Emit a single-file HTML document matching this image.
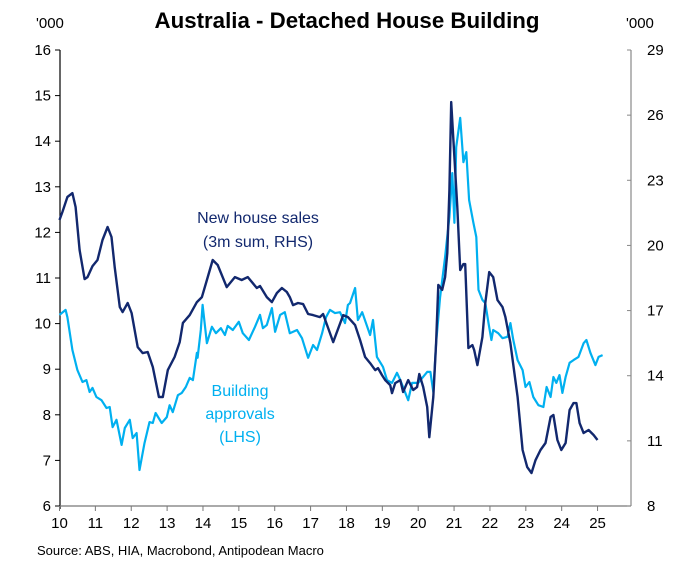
<!DOCTYPE html>
<html><head><meta charset="utf-8"><style>
body{margin:0;background:#fff;width:688px;height:572px;overflow:hidden;font-family:"Liberation Sans",Arial,sans-serif}
svg text{font-family:"Liberation Sans",Arial,sans-serif}
</style></head><body>
<svg id="chart" width="688" height="572" viewBox="0 0 688 572" xmlns="http://www.w3.org/2000/svg">
<text x="347" y="28" text-anchor="middle" font-size="22.5" font-weight="bold" fill="#000" textLength="385" lengthAdjust="spacingAndGlyphs">Australia - Detached House Building</text>
<text x="36" y="28" font-size="15" fill="#000">'000</text>
<text x="626" y="28" font-size="15" fill="#000">'000</text>
<g id="axes"></g>
<g id="series"></g>
<text x="258" y="223" text-anchor="middle" font-size="16" fill="#12286e">New house sales</text>
<text x="258" y="247" text-anchor="middle" font-size="16" fill="#12286e">(3m sum, RHS)</text>
<text x="240" y="396" text-anchor="middle" font-size="16" fill="#00b0f0">Building</text>
<text x="240" y="419" text-anchor="middle" font-size="16" fill="#00b0f0">approvals</text>
<text x="240" y="442" text-anchor="middle" font-size="16" fill="#00b0f0">(LHS)</text>
<text x="37" y="555" font-size="13" fill="#000">Source: ABS, HIA, Macrobond, Antipodean Macro</text>
</svg>
<script>
const leftTicks=[6,7,8,9,10,11,12,13,14,15,16];
const rightTicks=[8,11,14,17,20,23,26,29];
const yearTicks=[10,11,12,13,14,15,16,17,18,19,20,21,22,23,24,25];
const salesDates=[10.00,10.08,10.22,10.36,10.45,10.56,10.70,10.78,10.92,11.06,11.20,11.34,11.45,11.54,11.68,11.76,11.90,12.01,12.18,12.32,12.46,12.60,12.77,12.88,13.02,13.21,13.35,13.44,13.63,13.83,13.97,14.11,14.27,14.41,14.66,14.89,15.08,15.25,15.50,15.59,15.78,15.92,16.06,16.20,16.34,16.42,16.51,16.65,16.79,16.93,17.07,17.26,17.35,17.63,17.91,18.04,18.24,18.38,18.52,18.66,18.80,18.88,18.99,19.08,19.22,19.27,19.36,19.50,19.58,19.72,19.86,19.97,20.03,20.14,20.25,20.31,20.42,20.50,20.56,20.67,20.75,20.81,20.87,20.92,20.98,21.09,21.17,21.26,21.31,21.40,21.51,21.56,21.65,21.79,21.87,21.98,22.09,22.21,22.35,22.43,22.57,22.77,22.91,23.04,23.16,23.27,23.41,23.55,23.69,23.77,23.88,23.99,24.11,24.22,24.33,24.41,24.50,24.61,24.75,24.89,25.00];
const salesValues=[21.17,21.54,22.23,22.41,21.77,19.79,18.45,18.54,19.05,19.33,20.25,20.85,20.39,19.00,17.16,16.93,17.35,16.89,15.32,15.04,15.09,14.40,13.02,13.02,14.26,14.86,15.55,16.43,16.79,17.39,17.62,18.41,19.33,19.10,18.08,18.54,18.41,18.54,18.04,18.13,17.62,17.39,17.81,18.04,17.85,17.62,17.25,17.35,17.30,16.84,16.79,16.70,16.84,15.55,16.79,16.70,16.33,15.64,14.86,14.58,14.26,14.35,14.03,13.80,13.57,13.20,13.66,13.80,13.25,13.80,13.34,13.48,14.08,13.48,12.56,11.17,13.02,15.50,18.18,17.95,18.54,19.65,22.55,26.60,24.85,21.77,18.87,19.14,19.14,15.27,15.41,15.18,14.49,15.78,17.35,18.77,18.54,17.48,17.16,16.70,15.50,13.02,10.58,9.79,9.52,10.11,10.58,10.90,12.10,12.19,11.04,10.58,10.90,12.42,12.74,12.74,11.82,11.36,11.50,11.27,11.04];
const approvalDates=[10.00,10.17,10.22,10.36,10.50,10.64,10.75,10.84,10.92,11.03,11.17,11.31,11.40,11.48,11.59,11.73,11.82,11.96,12.04,12.15,12.23,12.37,12.51,12.60,12.68,12.85,12.99,13.07,13.16,13.30,13.41,13.52,13.63,13.72,13.83,13.85,13.94,13.99,14.11,14.25,14.36,14.50,14.61,14.69,14.83,15.00,15.11,15.28,15.45,15.59,15.67,15.78,15.92,16.01,16.15,16.28,16.42,16.62,16.76,16.93,17.07,17.18,17.32,17.43,17.54,17.68,17.82,17.96,18.04,18.10,18.24,18.32,18.44,18.66,18.74,18.85,19.02,19.13,19.27,19.41,19.50,19.72,19.83,20.00,20.25,20.34,20.42,20.50,20.61,20.75,20.87,20.95,21.01,21.06,21.17,21.26,21.34,21.42,21.54,21.62,21.68,21.79,21.87,21.96,22.04,22.09,22.23,22.35,22.49,22.57,22.65,22.77,22.91,22.99,23.10,23.21,23.35,23.49,23.58,23.69,23.77,23.85,23.94,24.02,24.11,24.22,24.33,24.47,24.61,24.69,24.80,24.94,25.03,25.14];
const approvalValues=[10.19,10.30,10.14,9.42,8.98,8.72,8.76,8.50,8.59,8.39,8.32,8.15,8.17,7.73,7.89,7.34,7.71,7.89,7.49,7.60,6.79,7.38,7.84,7.82,8.04,7.82,7.95,8.21,8.06,8.43,8.48,8.61,8.81,8.76,9.36,9.25,9.86,10.41,9.57,9.93,9.79,9.90,9.75,9.95,9.86,10.04,9.79,9.64,9.93,10.19,9.90,9.97,10.34,9.82,10.19,10.25,9.79,9.86,9.68,9.25,9.53,9.42,9.79,10.14,10.30,10.23,10.25,10.01,10.41,10.45,10.78,10.08,10.25,9.75,10.08,9.27,9.05,8.76,8.70,8.92,8.76,8.32,8.70,8.70,8.94,8.94,8.50,9.57,10.58,11.46,12.34,13.30,12.21,13.87,14.51,13.54,13.76,12.71,12.21,11.90,10.74,10.52,10.45,10.01,9.64,9.86,9.79,9.68,9.71,10.01,9.64,9.20,8.98,8.61,8.72,8.39,8.21,8.17,8.61,8.39,8.83,8.70,8.87,8.48,8.83,9.14,9.20,9.27,9.57,9.64,9.36,9.09,9.27,9.31];

const NS='http://www.w3.org/2000/svg';
const X0=60,X1=631,Y0=50,Y1=506;
function xS(y){return 59.5+(y-10)*35.87;}
function yL(v){return Y1-(v-6)/(16-6)*(Y1-Y0);}
function yR(v){return Y1-(v-8)/(29-8)*(Y1-Y0);}
function mk(tag,attrs,parent){const e=document.createElementNS(NS,tag);for(const k in attrs)e.setAttribute(k,attrs[k]);parent.appendChild(e);return e;}
const axes=document.getElementById('axes');
const ser=document.getElementById('series');
let e;
e=mk('line',{x1:X0,y1:Y0,x2:X0,y2:Y1+3,stroke:'#000','stroke-width':1.2},axes);


e=mk('line',{x1:X1,y1:Y0,x2:X1,y2:Y1,stroke:'#888','stroke-width':1.2},axes);


e=mk('line',{x1:X0,y1:Y1,x2:X1,y2:Y1,stroke:'#777','stroke-width':1.2},axes);


leftTicks.forEach(v=>{const y=yL(v);
 e=mk('line',{x1:X0-5,y1:y,x2:X0,y2:y,stroke:'#000','stroke-width':1},axes);
 
 
 e=mk('text',{x:X0-9,y:y+5,'text-anchor':'end','font-size':15,fill:'#000'},axes);e.textContent=v;
 
 });
rightTicks.forEach(v=>{const y=yR(v);
 e=mk('line',{x1:X1-4,y1:y,x2:X1,y2:y,stroke:'#888','stroke-width':1},axes);
 
 
 e=mk('text',{x:X1+16,y:y+5,'text-anchor':'start','font-size':15,fill:'#000'},axes);e.textContent=v;
 
 });
yearTicks.forEach(v=>{const x=xS(v);
 e=mk('line',{x1:x,y1:Y1,x2:x,y2:Y1+5,stroke:'#777','stroke-width':1},axes);
 
 
 e=mk('text',{x:x,y:Y1+22,'text-anchor':'middle','font-size':15,fill:'#000'},axes);e.textContent=v;
 
 });
function pts(d,v,f){return d.map((t,i)=>xS(t).toFixed(1)+','+f(v[i]).toFixed(1)).join(' ');}
e=mk('polyline',{points:pts(approvalDates,approvalValues,yL),fill:'none',stroke:'#00b0f0','stroke-width':2.2,'stroke-linejoin':'round'},ser);


e=mk('polyline',{points:pts(salesDates,salesValues,yR),fill:'none',stroke:'#12286e','stroke-width':2.4,'stroke-linejoin':'round'},ser);


</script>
</body></html>
